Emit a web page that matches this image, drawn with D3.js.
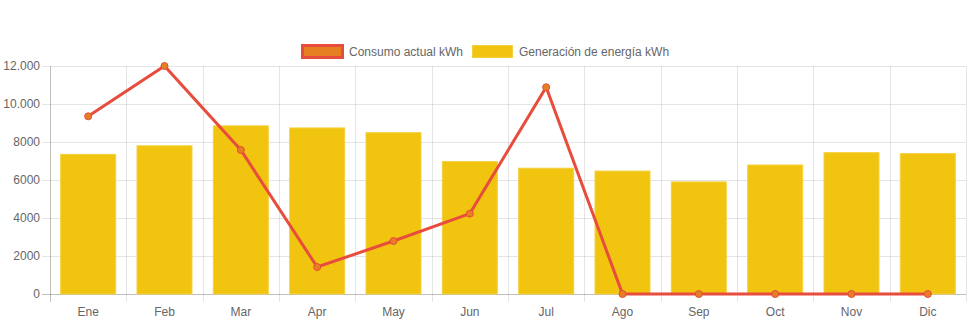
<!DOCTYPE html>
<html>
<head>
<meta charset="utf-8">
<script src="https://cdn.jsdelivr.net/npm/d3@7"></script>
<style>
  html, body { margin: 0; padding: 0; background: #fff; }
  svg { display: block; }
  text { font-family: "Liberation Sans", Arial, Helvetica, sans-serif; font-size: 12px; fill: #666; }
</style>
</head>
<body>
<svg id="chart" width="971" height="323"></svg>
<script>
const months = ["Ene","Feb","Mar","Apr","May","Jun","Jul","Ago","Sep","Oct","Nov","Dic"];
const consumo = [9350, 12000, 7580, 1420, 2790, 4230, 10880, 0, 0, 0, 0, 0];
const generacion = [7350, 7800, 8850, 8740, 8490, 6970, 6620, 6470, 5900, 6790, 7440, 7390];
const yTicks = [0, 2000, 4000, 6000, 8000, 10000, 12000];
const yTickLabels = ["0", "2000", "4000", "6000", "8000", "10.000", "12.000"];
const seriesNames = ["Consumo actual kWh", "Generación de energía kWh"];

const svg = d3.select("#chart");
const pLeft = 50, pRight = 966, pTop = 66, pBottom = 294;

const x = d3.scaleBand().domain(months).range([pLeft, pRight]).paddingInner(0).paddingOuter(0);
const y = d3.scaleLinear().domain([0, 12000]).range([pBottom, pTop]);

const grid = svg.append("g");
yTicks.forEach(t => {
  grid.append("line")
    .attr("x1", pLeft - 8).attr("x2", pRight)
    .attr("y1", Math.round(y(t)) + 0.5).attr("y2", Math.round(y(t)) + 0.5)
    .attr("stroke", t === 0 ? "rgba(0,0,0,0.25)" : "rgba(0,0,0,0.1)")
    .attr("stroke-width", 1);
});
const bounds = months.map(m => x(m)).concat([pRight]);
bounds.forEach((b, i) => {
  grid.append("line")
    .attr("x1", Math.round(b) + 0.5).attr("x2", Math.round(b) + 0.5)
    .attr("y1", pTop).attr("y2", pBottom + 8)
    .attr("stroke", i === 0 ? "rgba(0,0,0,0.25)" : "rgba(0,0,0,0.1)")
    .attr("stroke-width", 1);
});

svg.append("g").selectAll("text").data(yTicks).join("text")
  .attr("x", pLeft - 10).attr("y", d => y(d))
  .attr("dy", "0.35em").attr("text-anchor", "end")
  .text((d, i) => yTickLabels[i]);

svg.append("g").selectAll("text").data(months).join("text")
  .attr("x", d => x(d) + x.bandwidth() / 2).attr("y", 312)
  .attr("dy", "0.35em").attr("text-anchor", "middle")
  .text(d => d);

const bw = x.bandwidth() * 0.72;
svg.append("g").selectAll("rect").data(generacion).join("rect")
  .attr("x", (d, i) => x(months[i]) + (x.bandwidth() - bw) / 2)
  .attr("y", d => y(d))
  .attr("width", bw)
  .attr("height", d => pBottom - y(d))
  .attr("fill", "#f1c40f")
  .attr("stroke", "#f4d03f")
  .attr("stroke-width", 1);

const line = d3.line()
  .x((d, i) => x(months[i]) + x.bandwidth() / 2)
  .y(d => y(d));
svg.append("path").datum(consumo)
  .attr("d", line)
  .attr("fill", "none")
  .attr("stroke", "#e74c3c")
  .attr("stroke-width", 3)
  .attr("stroke-linejoin", "miter");

svg.append("g").selectAll("circle").data(consumo).join("circle")
  .attr("cx", (d, i) => x(months[i]) + x.bandwidth() / 2)
  .attr("cy", d => y(d))
  .attr("r", 3.5)
  .attr("fill", "#e67e22")
  .attr("stroke", "#e74c3c")
  .attr("stroke-width", 1);

const lg = svg.append("g");
lg.append("rect").attr("x", 302.5).attr("y", 45.5).attr("width", 40).attr("height", 12)
  .attr("fill", "#e67e22").attr("stroke", "#e74c3c").attr("stroke-width", 3);
lg.append("text").attr("x", 349).attr("y", 51.5).attr("dy", "0.35em").text(seriesNames[0]);
lg.append("rect").attr("x", 472.5).attr("y", 45.5).attr("width", 40).attr("height", 12)
  .attr("fill", "#f1c40f").attr("stroke", "#f4d03f").attr("stroke-width", 1);
lg.append("text").attr("x", 519).attr("y", 51.5).attr("dy", "0.35em").text(seriesNames[1]);
</script>
</body>
</html>
